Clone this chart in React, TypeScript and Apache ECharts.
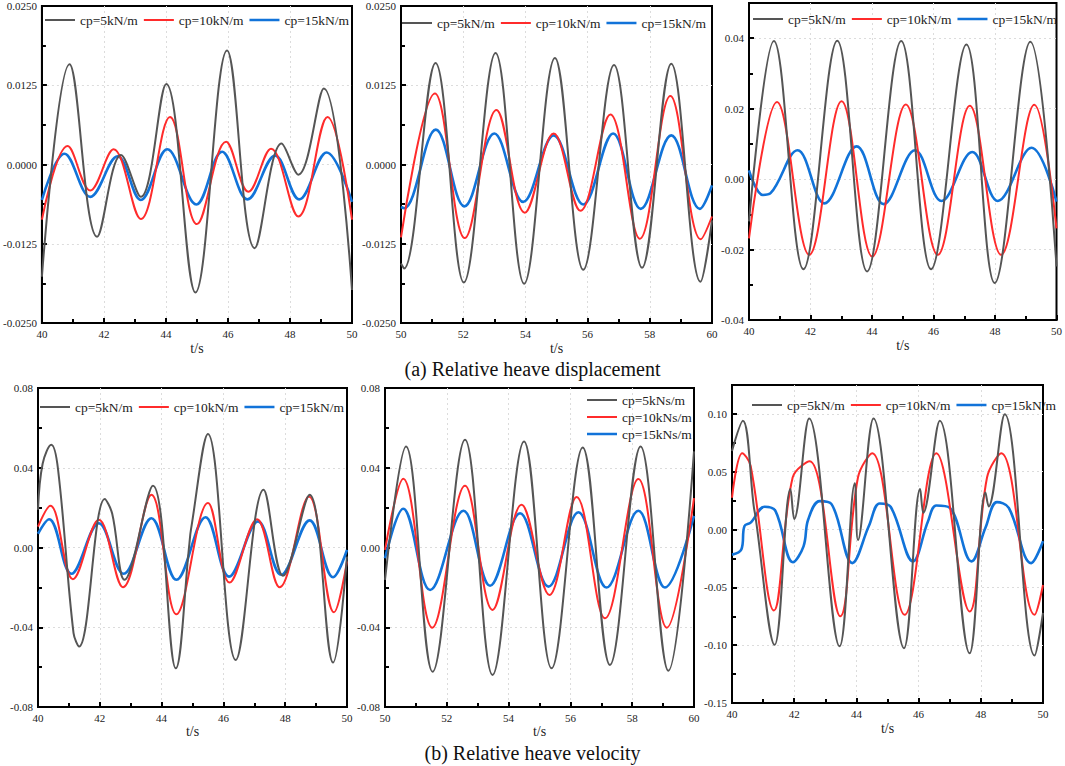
import React, { useEffect, useRef } from "react";
import * as echarts from "echarts";

// ---------- data (t [s], value) ----------
const namesKN = ["cp=5kN/m", "cp=10kN/m", "cp=15kN/m"];
const namesKNs = ["cp=5kNs/m", "cp=10kNs/m", "cp=15kNs/m"];

// (a) displacement, 40-50 s
const p1Cp5 = [[40, -0.0177], [40.89, 0.0158], [41.78, -0.0114], [42.55, 0.0015], [43.19, -0.0051], [44.01, 0.0127], [44.95, -0.0202], [45.97, 0.018], [46.86, -0.0132], [47.73, 0.0033], [48.27, -0.0016], [49.09, 0.012], [50, -0.0198]];
const p1Cp10 = [[40, -0.0087], [40.83, 0.0029], [41.56, -0.0041], [42.31, 0.0024], [43.19, -0.0086], [44.13, 0.0075], [45.0, -0.0094], [45.94, 0.0036], [46.66, -0.0043], [47.39, 0.0025], [48.27, -0.0082], [49.21, 0.0075], [50, -0.0087]];
const p1Cp15 = [[40, -0.0056], [40.73, 0.0017], [41.56, -0.0051], [42.44, 0.0013], [43.19, -0.0056], [44.04, 0.0024], [44.98, -0.0063], [45.81, 0.002], [46.63, -0.0055], [47.52, 0.0014], [48.3, -0.0055], [49.18, 0.0019], [50, -0.0059]];

// (a) displacement, 50-60 s
const p2Cp5 = [[50, -0.0156], [50.1, -0.0164], [51.11, 0.016], [52.02, -0.0186], [53.04, 0.0176], [53.96, -0.0188], [54.95, 0.0168], [55.86, -0.0166], [56.85, 0.0157], [57.75, -0.0163], [58.69, 0.0159], [59.63, -0.0185], [60, -0.0088]];
const p2Cp10 = [[50, -0.0115], [51.09, 0.0112], [52.05, -0.0116], [53.07, 0.0086], [53.98, -0.0076], [54.91, 0.0049], [55.77, -0.0073], [56.73, 0.0079], [57.68, -0.0117], [58.66, 0.0108], [59.64, -0.0118], [60, -0.0082]];
const p2Cp15 = [[50, -0.0067], [50.1, -0.0069], [51.12, 0.0055], [52.04, -0.0066], [53.0, 0.0049], [53.93, -0.0059], [54.91, 0.0046], [55.86, -0.0063], [56.82, 0.0049], [57.71, -0.007], [58.69, 0.0046], [59.61, -0.007], [60, -0.0033]];

// (a) displacement, 40-50 s, third case
const p3Cp5 = [[40, -0.012], [40.81, 0.0392], [41.77, -0.0256], [42.87, 0.0393], [43.84, -0.0262], [44.95, 0.0392], [45.92, -0.0256], [47.07, 0.0382], [47.99, -0.0295], [49.15, 0.039], [50, -0.0248]];
const p3Cp10 = [[40, -0.0168], [40.91, 0.0219], [41.96, -0.0215], [43.01, 0.0221], [44.01, -0.022], [45.1, 0.0212], [46.14, -0.0215], [47.18, 0.0208], [48.2, -0.0215], [49.28, 0.0211], [50, -0.014]];
const p3Cp15 = [[40, 0.0025], [40.45, -0.0045], [40.7, -0.004], [41.58, 0.0082], [42.45, -0.0069], [43.5, 0.0093], [44.38, -0.0071], [45.4, 0.0082], [46.26, -0.0062], [47.26, 0.0077], [48.09, -0.0062], [49.19, 0.0089], [50, -0.0064]];

// (b) velocity, 40-50 s
const p4Cp5 = [[40, 0.0189], [40.15, 0.042], [40.43, 0.0515], [40.65, 0.039], [41.15, -0.043], [41.33, -0.0497], [42.16, 0.0243], [42.4, 0.017], [42.8, -0.0162], [43.72, 0.031], [44.46, -0.0606], [44.9, 0.002], [44.95, 0.009], [45.5, 0.0569], [46.4, -0.0564], [47.3, 0.029], [47.93, -0.0142], [48.79, 0.0264], [49.55, -0.0577], [50, -0.0045]];
const p4Cp10 = [[40, 0.0105], [40.4, 0.021], [41.13, -0.0159], [41.97, 0.0139], [42.75, -0.0199], [43.67, 0.0264], [44.48, -0.0335], [45.5, 0.0223], [46.2, -0.0176], [47.09, 0.0142], [47.82, -0.0199], [48.77, 0.0256], [49.58, -0.0325], [50, -0.007]];
const p4Cp15 = [[40, 0.0069], [40.36, 0.0142], [41.08, -0.0132], [41.97, 0.0122], [42.77, -0.0132], [43.67, 0.0147], [44.48, -0.0162], [45.42, 0.0152], [46.18, -0.0146], [47.12, 0.0131], [47.87, -0.0137], [48.79, 0.0136], [49.55, -0.0149], [50, -0.0012]];

// (b) velocity, 50-60 s
const p5Cp5 = [[50, -0.0162], [50.68, 0.0507], [51.54, -0.0623], [52.59, 0.0541], [53.48, -0.0639], [54.5, 0.0532], [55.39, -0.0606], [56.4, 0.0502], [57.28, -0.0589], [58.27, 0.0507], [59.17, -0.0618], [60, 0.0482]];
const p5Cp10 = [[50, -0.0012], [50.59, 0.0345], [51.53, -0.0402], [52.59, 0.031], [53.48, -0.0313], [54.42, 0.0214], [55.32, -0.0238], [56.2, 0.0253], [57.12, -0.0355], [58.2, 0.0343], [59.12, -0.0402], [60, 0.0248]];
const p5Cp15 = [[50, -0.0054], [50.59, 0.0194], [51.46, -0.0213], [52.54, 0.0184], [53.4, -0.0192], [54.37, 0.0172], [55.29, -0.0196], [56.26, 0.0177], [57.17, -0.0201], [58.2, 0.0184], [59.06, -0.0201], [60, 0.0159]];

// (b) velocity, 40-50 s, third case
const p6Cp5 = [[40, 0.068], [40.35, 0.094], [40.7, 0.02], [40.75, 0.012], [41.37, -0.0997], [41.88, 0.035], [42.0, 0.009], [42.48, 0.096], [43.46, -0.101], [43.95, 0.04], [44.05, -0.009], [44.55, 0.096], [45.53, -0.1026], [46.05, 0.035], [46.15, 0.0145], [46.68, 0.094], [47.64, -0.107], [48.15, 0.032], [48.25, 0.02], [48.77, 0.0997], [49.73, -0.109], [50, -0.072]];
const p6Cp10 = [[40, 0.0275], [40.33, 0.066], [40.6, 0.055], [41.35, -0.07], [41.95, 0.045], [42.5, 0.059], [43.48, -0.075], [44.05, 0.045], [44.51, 0.066], [45.55, -0.0737], [46.57, 0.066], [47.64, -0.0708], [48.2, 0.045], [48.66, 0.066], [49.73, -0.0737], [50, -0.048]];
const p6Cp15 = [[40, -0.0217], [40.3, -0.0173], [40.4, 0.003], [40.6, 0.006], [41.05, 0.0197], [41.4, 0.016], [41.96, -0.0283], [42.3, -0.0145], [42.45, 0.0087], [42.82, 0.0246], [43.2, 0.022], [43.87, -0.029], [44.4, 0.003], [44.75, 0.0225], [45.1, 0.0197], [45.82, -0.0275], [46.3, 0.007], [46.57, 0.0208], [47.0, 0.0188], [47.7, -0.0275], [48.15, 0.0015], [48.52, 0.0237], [48.9, 0.0188], [49.62, -0.029], [50, -0.01]];

const colors = ["#555555", "#ff2b2b", "#1173d9"];
const widths = [2, 2, 2.6];
const FONT = "Liberation Serif";

// legend icon: a horizontal bar in a 30x14 box (tiny corner dots fix the box)
const barIcon = (h: number) =>
  `path://M0,0h0.01v0.01h-0.01z M0,${7 - h / 2}h30v${h}h-30z M29.99,13.99h0.01v0.01h-0.01z`;

type Panel = {
  grid: { left: number; top: number; width: number; height: number };
  xMin: number; xMax: number;
  yMin: number; yMax: number; yInt: number; dec: number;
  showMax: boolean;
  data: number[][][];
  names: string[];
  legend: any;
  nameGap: number;
};

const panels: Panel[] = [
  { grid: { left: 41, top: 6, width: 311, height: 317 }, xMin: 40, xMax: 50, yMin: -0.025, yMax: 0.025, yInt: 0.0125, dec: 4, showMax: true, data: [p1Cp5, p1Cp10, p1Cp15], names: namesKN, legend: { left: 45, top: 13, orient: "horizontal" }, nameGap: 18 },
  { grid: { left: 401, top: 6, width: 311, height: 317 }, xMin: 50, xMax: 60, yMin: -0.025, yMax: 0.025, yInt: 0.0125, dec: 4, showMax: true, data: [p2Cp5, p2Cp10, p2Cp15], names: namesKN, legend: { left: 402, top: 16, orient: "horizontal" }, nameGap: 18 },
  { grid: { left: 749, top: 3, width: 310, height: 317 }, xMin: 40, xMax: 50, yMin: -0.04, yMax: 0.05, yInt: 0.02, dec: 2, showMax: false, data: [p3Cp5, p3Cp10, p3Cp15], names: namesKN, legend: { left: 753, top: 12, orient: "horizontal" }, nameGap: 18 },
  { grid: { left: 38, top: 388, width: 309, height: 319 }, xMin: 40, xMax: 50, yMin: -0.08, yMax: 0.08, yInt: 0.04, dec: 2, showMax: true, data: [p4Cp5, p4Cp10, p4Cp15], names: namesKN, legend: { left: 40, top: 400, orient: "horizontal" }, nameGap: 17 },
  { grid: { left: 385, top: 388, width: 309, height: 319 }, xMin: 50, xMax: 60, yMin: -0.08, yMax: 0.08, yInt: 0.04, dec: 2, showMax: true, data: [p5Cp5, p5Cp10, p5Cp15], names: namesKNs, legend: { left: 587, top: 393, orient: "vertical" }, nameGap: 17 },
  { grid: { left: 732, top: 385, width: 311, height: 318 }, xMin: 40, xMax: 50, yMin: -0.15, yMax: 0.125, yInt: 0.05, dec: 2, showMax: false, data: [p6Cp5, p6Cp10, p6Cp15], names: namesKN, legend: { left: 752, top: 398, orient: "horizontal" }, nameGap: 18 },
];

function buildOption() {
  const grid: any[] = [];
  const xAxis: any[] = [];
  const yAxis: any[] = [];
  const series: any[] = [];
  const legend: any[] = [];
  const label = { fontFamily: FONT, fontSize: 11, color: "#222" };
  const split = { show: true, showMinLine: false, showMaxLine: false, lineStyle: { color: "#dcdcdc", width: 1, type: [2, 3] } };
  panels.forEach((p, i) => {
    grid.push({ ...p.grid, show: true, borderColor: "#000", borderWidth: 2, backgroundColor: "transparent", containLabel: false });
    xAxis.push({
      type: "value", gridIndex: i, min: p.xMin, max: p.xMax, interval: 2,
      name: "t/s", nameLocation: "middle", nameGap: p.nameGap,
      nameTextStyle: { fontFamily: FONT, fontSize: 14, color: "#222" },
      axisLine: { show: true, onZero: false, lineStyle: { color: "#000", width: 2 } },
      axisTick: { show: true, inside: true, length: 5, lineStyle: { color: "#000", width: 2 } },
      minorTick: { show: true, splitNumber: 2, length: 4, lineStyle: { color: "#000", width: 2 } },
      axisLabel: { ...label, margin: 5 },
      splitLine: split,
    });
    yAxis.push({
      type: "value", gridIndex: i, min: p.yMin, max: p.yMax, interval: p.yInt,
      axisLine: { show: true, onZero: false, lineStyle: { color: "#000", width: 2 } },
      axisTick: { show: true, inside: true, length: 5, lineStyle: { color: "#000", width: 2 } },
      minorTick: { show: true, splitNumber: 2, length: 4, lineStyle: { color: "#000", width: 2 } },
      axisLabel: { ...label, margin: 5, showMaxLabel: p.showMax, showMinLabel: true, formatter: (v: number) => (Math.abs(v) < 1e-9 ? 0 : v).toFixed(p.dec) },
      splitLine: split,
    });
    p.data.forEach((d, k) => {
      series.push({
        type: "line", name: p.names[k], xAxisIndex: i, yAxisIndex: i, data: d,
        symbol: "none", showSymbol: false, smooth: 0.38, z: 5 - k,
        lineStyle: { color: colors[k], width: widths[k] },
        itemStyle: { color: colors[k] },
      });
    });
    legend.push({
      ...p.legend, padding: 0, itemWidth: 30, itemHeight: 14,
      itemGap: p.legend.orient === "vertical" ? 3 : 6,
      data: p.names.map((n, k) => ({ name: n, icon: barIcon(widths[k]) })),
      selectedMode: false,
      textStyle: { fontFamily: FONT, fontSize: 13.5, color: "#222" },
    });
  });
  return {
    animation: false,
    backgroundColor: "#fff",
    title: [
      { text: "(a) Relative heave displacement", left: "center", top: 359, padding: 0, textStyle: { fontFamily: FONT, fontSize: 20, fontWeight: "normal", color: "#111" } },
      { text: "(b) Relative heave velocity", left: "center", top: 743, padding: 0, textStyle: { fontFamily: FONT, fontSize: 20, fontWeight: "normal", color: "#111" } },
    ],
    grid, xAxis, yAxis, series, legend,
  };
}

export default function App() {
  const ref = useRef<HTMLDivElement>(null);
  useEffect(() => {
    if (!ref.current) return;
    const chart = echarts.init(ref.current, undefined, { renderer: "svg" });
    chart.setOption(buildOption() as any);
    return () => chart.dispose();
  }, []);
  return <div ref={ref} style={{ position: "absolute", left: 0, top: 0, width: 1065, height: 766, background: "#fff" }} />;
}
